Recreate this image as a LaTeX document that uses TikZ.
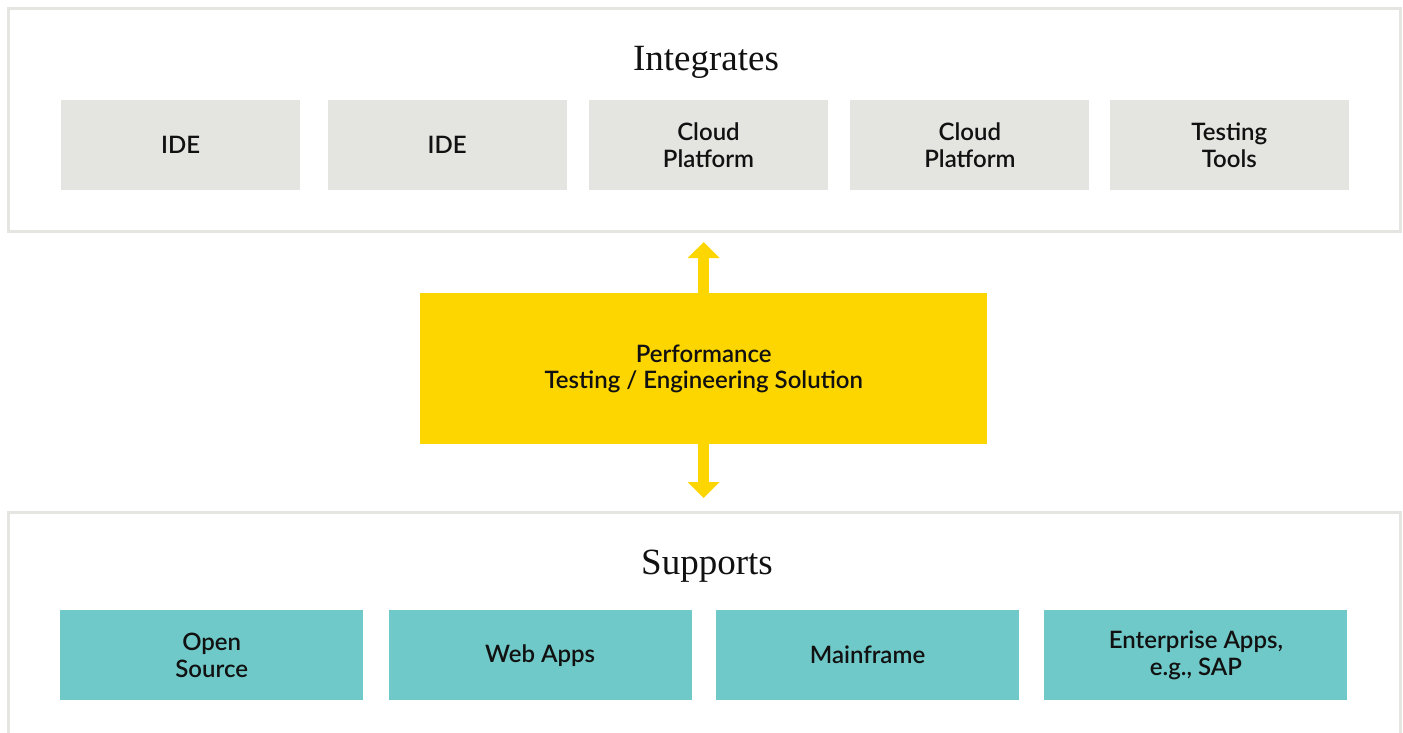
\documentclass[tikz,border=0pt]{standalone}
\usepackage{fontspec}
\setmainfont{Lato}[BoldFont={Lato Semibold}]
\newfontfamily\titlefont{Liberation Serif}
\usetikzlibrary{positioning,arrows.meta}
\usepackage{xcolor}
\definecolor{cframe}{RGB}{229,229,226}
\definecolor{cgrey}{RGB}{228,228,224}
\definecolor{cyellow}{RGB}{253,214,0}
\definecolor{cteal}{RGB}{112,201,201}
\definecolor{ctext}{RGB}{17,17,17}

\begin{document}
\begin{tikzpicture}[x=1pt, y=-1pt, >=latex]
		\def\xleft{0}
		\def\xright{1403}
		\def\ydown{732}
		\def\yup{0}
		\useasboundingbox (\xleft, \yup) rectangle (\xright, \ydown);
		\clip (\xleft, \yup) rectangle (\xright, \ydown);

		\def\glen{239pt}
		\def\tlen{303pt}
		\def\bhgt{90pt}
		\def\boxfont{\fontsize{24}{26.5}\selectfont\bfseries}

		% Frames
		\node[anchor=north west, draw=cframe, line width=3pt, minimum width=1392pt, minimum height=223pt, inner sep=0pt] (intframe) at (7, 7) {};
		\node[anchor=north west, draw=cframe, line width=3pt, minimum width=1392pt, minimum height=300pt, inner sep=0pt] (supframe) at (7, 511) {};

		\node[text=ctext] (inttitle) at (706, 62)
			{\titlefont\fontsize{37}{42}\selectfont Integrates};
		\node[text=ctext] (suptitle) at (707, 566)
			{\titlefont\fontsize{37}{42}\selectfont Supports};

		% Integrates boxes
		\node[anchor=north west, fill=cgrey, text=ctext, minimum width=\glen, minimum height=\bhgt, align=center, font=\boxfont] (ide1) at (61, 100)
			{IDE};
		\node[anchor=west, fill=cgrey, text=ctext, minimum width=\glen, minimum height=\bhgt, align=center, font=\boxfont] (ide2) at ([xshift=27pt]ide1.east)
			{IDE};
		\node[anchor=west, fill=cgrey, text=ctext, minimum width=\glen, minimum height=\bhgt, align=center, font=\boxfont] (cloud1) at ([xshift=22pt]ide2.east)
			{Cloud\\Platform};
		\node[anchor=west, fill=cgrey, text=ctext, minimum width=\glen, minimum height=\bhgt, align=center, font=\boxfont] (cloud2) at ([xshift=22pt]cloud1.east)
			{Cloud\\Platform};
		\node[anchor=west, fill=cgrey, text=ctext, minimum width=\glen, minimum height=\bhgt, align=center, font=\boxfont] (tools) at ([xshift=20pt]cloud2.east)
			{Testing\\Tools};

		% Solution
		\node[anchor=north west, fill=cyellow, text=ctext, minimum width=567pt, minimum height=151pt, align=center, font=\boxfont] (solution) at (420, 293)
			{Performance\\Testing / Engineering Solution};

		% Supports boxes
		\node[anchor=north west, fill=cteal, text=ctext, minimum width=\tlen, minimum height=\bhgt, align=center, font=\boxfont] (opensrc) at (60, 610)
			{Open\\Source};
		\node[anchor=west, fill=cteal, text=ctext, minimum width=\tlen, minimum height=\bhgt, align=center, font=\boxfont] (webapps) at ([xshift=25pt]opensrc.east)
			{Web Apps};
		\node[anchor=west, fill=cteal, text=ctext, minimum width=\tlen, minimum height=\bhgt, align=center, font=\boxfont] (mainframe) at ([xshift=24pt]webapps.east)
			{Mainframe};
		\node[anchor=west, fill=cteal, text=ctext, minimum width=\tlen, minimum height=\bhgt, align=center, font=\boxfont] (enterprise) at ([xshift=25pt]mainframe.east)
			{Enterprise Apps,\\e.g., SAP};

		% Arrows
		\draw[line width=11pt, cyellow, -{Triangle[width=31pt, length=16pt]}, shorten >=9pt] (solution.north) -- (solution.north |- intframe.south);
		\draw[line width=11pt, cyellow, -{Triangle[width=31pt, length=16pt]}, shorten >=13pt] (solution.south) -- (solution.south |- supframe.north);

	\end{tikzpicture}
\end{document}
